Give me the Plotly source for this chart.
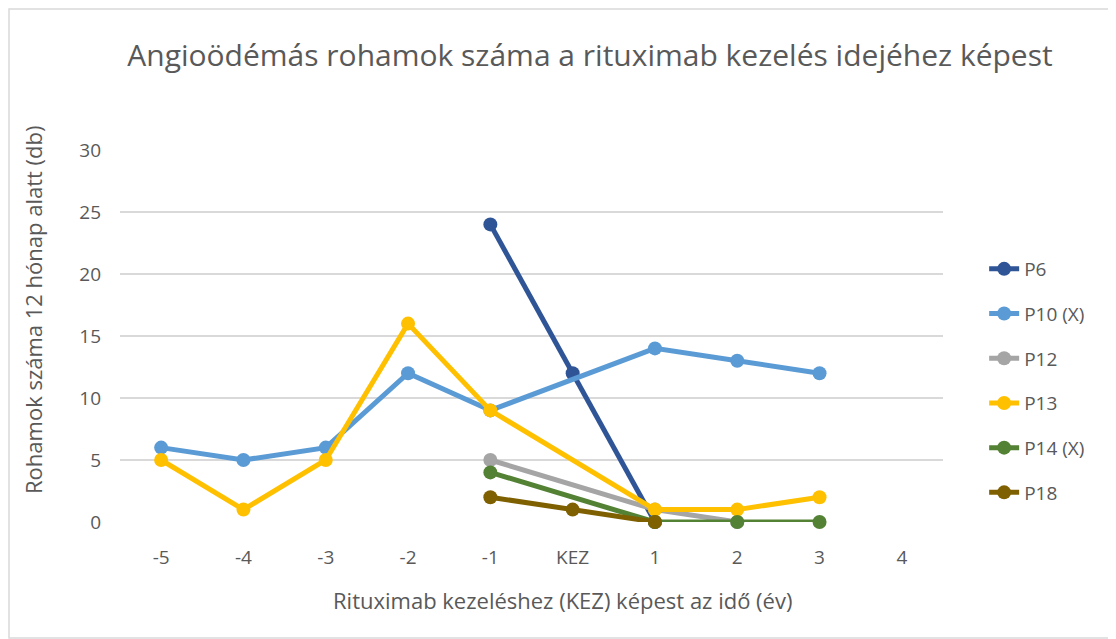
import plotly.graph_objects as go

categories = ["-5", "-4", "-3", "-2", "-1", "KEZ", "1", "2", "3", "4"]

p6 = [None, None, None, None, 24, 12, 0, None, None, None]
p10 = [6, 5, 6, 12, 9, None, 14, 13, 12, None]
p12 = [None, None, None, None, 5, None, 1, 0, None, None]
p13 = [5, 1, 5, 16, 9, None, 1, 1, 2, None]
p14 = [None, None, None, None, 4, None, 0, 0, 0, None]
p18 = [None, None, None, None, 2, 1, 0, None, None, None]

series = [
    ("P6", p6, "#2F5597"),
    ("P10 (X)", p10, "#5B9BD5"),
    ("P12", p12, "#A5A5A5"),
    ("P13", p13, "#FFC000"),
    ("P14 (X)", p14, "#548235"),
    ("P18", p18, "#7F6000"),
]

FONT = "Open Sans"
TXT = "#595959"
L, R, T, B = 112, 181, 142, 125
PW = 1116 - L - R
PH = 639 - T - B

fig = go.Figure()
for name, vals, col in series:
    fig.add_trace(go.Scatter(
        x=categories, y=vals, name=name, mode="lines+markers",
        connectgaps=True, cliponaxis=False, legendgroup=name,
        line=dict(color=col, width=5),
        marker=dict(color=col, size=14),
    ))

fig.update_layout(
    width=1116, height=639,
    paper_bgcolor="white", plot_bgcolor="white",
    margin=dict(l=L, r=R, t=T, b=B),
    font=dict(family=FONT, color=TXT),
    title=dict(text="Angioödémás rohamok száma a rituximab kezelés idejéhez képest",
               font=dict(size=30, color=TXT, family=FONT),
               x=582 / 1116, xanchor="center", y=1 - 47 / 639, yanchor="middle"),
    legend=dict(x=1.05, y=(PH - 100) / PH, xanchor="left", yanchor="top",
                font=dict(size=19, color=TXT), tracegroupgap=17,
                bgcolor="rgba(0,0,0,0)"),
    showlegend=True,
)
fig.update_xaxes(
    type="category", categoryorder="array", categoryarray=categories,
    range=[-0.5, 9.5], showgrid=False, showline=False, zeroline=False,
    ticks="", ticklabelstandoff=22, tickfont=dict(size=19, color=TXT),
)
fig.update_yaxes(
    range=[0, 30], dtick=5, showgrid=True, gridcolor="#D9D9D9", gridwidth=1.5,
    zeroline=False, showline=False, ticks="", ticklabelstandoff=18,
    tickfont=dict(size=19, color=TXT),
)
fig.add_annotation(text="Rituximab kezeléshez (KEZ) képest az idő (év)",
                   xref="paper", yref="paper", x=(554 - L) / PW, y=(T + PH - 592) / PH,
                   xanchor="center", yanchor="middle", showarrow=False,
                   font=dict(size=22, color=TXT))
fig.add_annotation(text="Rohamok száma 12 hónap alatt (db)",
                   xref="paper", yref="paper", x=(25 - L) / PW, y=(T + PH - 302) / PH,
                   xanchor="center", yanchor="middle", showarrow=False, textangle=-90,
                   font=dict(size=22, color=TXT))
fig.add_shape(type="rect", xref="paper", yref="paper",
              x0=(1 - L) / PW, x1=(1106 - L) / PW,
              y0=(T + PH - 630) / PH, y1=(T + PH - 1) / PH,
              line=dict(color="#D9D9D9", width=1.5), fillcolor="rgba(0,0,0,0)", layer="below")

fig.write_html("out.html")
